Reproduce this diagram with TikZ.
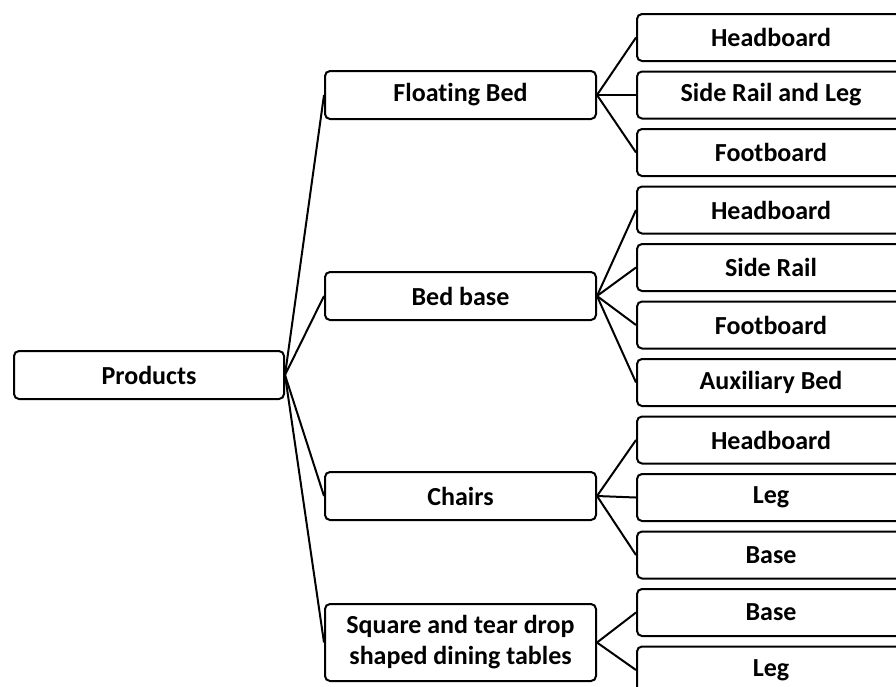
\documentclass[tikz,border=0pt]{standalone}
\usepackage{fontspec}
\setmainfont[Ligatures={NoCommon}]{Carlito}
\begin{document}
\begin{tikzpicture}[x=1pt,y=-1pt,
  box/.style={draw, line width=2pt, rounded corners=5pt, rectangle, inner sep=0pt,
    font=\fontsize{26}{31}\selectfont\bfseries, align=center},
  rootbox/.style={box, minimum width=270pt, minimum height=48pt},
  midbox/.style={box, minimum width=271pt, minimum height=48pt},
  leafbox/.style={box, minimum width=268pt, minimum height=47pt},
  link/.style={line width=2pt}]
\useasboundingbox (0,0) rectangle (896,686);
\clip (0,0) rectangle (896,686);

% root
\node[rootbox] (root) at (149,375) {Products};

% first level
\node[midbox] (fb) at (460.5,95) {Floating Bed};
\node[midbox] (bb) at (460.5,296) {Bed base};
\node[midbox] (ch) at (460.5,496) {Chairs};
\node[midbox, minimum height=77pt] (tb) at (460.5,642.5) {Square and tear drop\\shaped dining tables};

% leaves
\node[leafbox] (fb1) at (771,37.5) {Headboard};
\node[leafbox] (fb2) at (771,95) {Side Rail and Leg};
\node[leafbox] (fb3) at (771,152.5) {Footboard};
\node[leafbox] (bb1) at (771,210) {Headboard};
\node[leafbox] (bb2) at (771,267.5) {Side Rail};
\node[leafbox] (bb3) at (771,325) {Footboard};
\node[leafbox] (bb4) at (771,382.5) {Auxiliary Bed};
\node[leafbox] (ch1) at (771,440) {Headboard};
\node[leafbox] (ch2) at (771,497.5) {Leg};
\node[leafbox] (ch3) at (771,555) {Base};
\node[leafbox] (tb1) at (771,612.5) {Base};
\node[leafbox] (tb2) at (771,670) {Leg};

% connectors
\foreach \m in {fb,bb,ch,tb} \draw[link] (root.east) -- (\m.west);
\foreach \l in {fb1,fb2,fb3} \draw[link] (fb.east) -- (\l.west);
\foreach \l in {bb1,bb2,bb3,bb4} \draw[link] (bb.east) -- (\l.west);
\foreach \l in {ch1,ch2,ch3} \draw[link] (ch.east) -- (\l.west);
\foreach \l in {tb1,tb2} \draw[link] (tb.east) -- (\l.west);
\end{tikzpicture}
\end{document}
